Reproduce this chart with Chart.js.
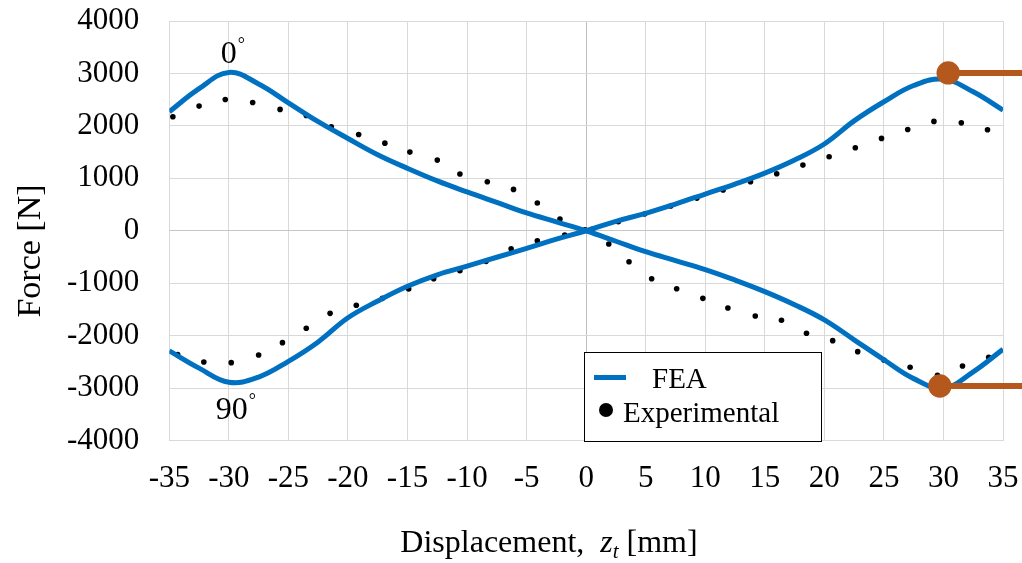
<!DOCTYPE html>
<html>
<head>
<meta charset="utf-8">
<script src="https://cdn.jsdelivr.net/npm/chart.js@4"></script>
<style>
  html, body { margin: 0; padding: 0; background: #fff; }
  #wrap { width: 1022px; height: 563px; }
</style>
</head>
<body>
<div id="wrap"><canvas id="chart" width="1022" height="563"></canvas></div>
<script>
// FEA curves, sampled every 2.5 mm
const feaX = [-35, -32.5, -30, -27.5, -25, -22.5, -20, -17.5, -15, -12.5, -10, -7.5, -5, -2.5, 0,
              2.5, 5, 7.5, 10, 12.5, 15, 17.5, 20, 22.5, 25, 27.5, 30, 32.5, 35];
const fea0 = [2270, 2710, 3020, 2800, 2440, 2080, 1760, 1450, 1190, 950, 740, 540, 340, 170, 0,
              -200, -400, -570, -740, -940, -1160, -1410, -1700, -2080, -2460, -2820, -3000, -2690, -2260];
const fea90 = [-2290, -2620, -2890, -2790, -2490, -2120, -1660, -1340, -1060, -840, -675, -505, -335, -160, 0,
               180, 333, 510, 700, 890, 1100, 1350, 1655, 2095, 2460, 2770, 2890, 2650, 2300];

// experimental points
const exp0X = [-34.7, -32.5, -30.3, -28.0, -25.7, -23.5, -21.4, -19.1, -16.9, -14.8, -12.5, -10.6, -8.3, -6.1, -4.1, -2.2, -0.1,
               1.9, 3.6, 5.5, 7.6, 9.8, 11.9, 14.2, 16.4, 18.5, 20.7, 22.8, 25.0, 27.2, 29.5, 31.6, 33.8];
const exp0Y = [2173, 2377, 2504, 2447, 2314, 2200, 1983, 1836, 1671, 1500, 1347, 1081, 934, 789, 528, 223, 20,
               -253, -591, -915, -1105, -1289, -1473, -1626, -1708, -1955, -2096, -2306, -2464, -2604, -2757, -2579, -2413];
const exp90X = [-34.3, -32.1, -29.8, -27.5, -25.5, -23.5, -21.5, -19.3, -17.1, -14.9, -12.8, -10.6, -8.4, -6.3, -4.1, -1.8, 0.5,
                2.7, 4.9, 7.1, 9.3, 11.5, 13.8, 16.0, 18.2, 20.4, 22.6, 24.8, 27.0, 29.2, 31.5, 33.7];
const exp90Y = [-2363, -2502, -2515, -2369, -2134, -1860, -1575, -1422, -1289, -1111, -914, -762, -584, -343, -191, -82, 30,
                172, 318, 471, 623, 776, 934, 1086, 1252, 1410, 1582, 1761, 1932, 2085, 2058, 1925];

// orange peak markers with leader lines running off the right edge
const markX = [30.4, 29.7];
const markY = [3010, -2960];
const leaderEndX = 37;

const angleLabels = ['0°', '90°'];
const angleLabelX = [-30, -30];
const angleLabelY = [3190, -3595];

const legendLabels = ['FEA', 'Experimental'];

const BLUE = '#0070C0';
const ORANGE = '#B5581D';
const SERIF = "'Liberation Serif', 'Times New Roman', serif";

Chart.defaults.font.family = SERIF;
Chart.defaults.color = '#000';

const pairs = (xs, ys) => xs.map((x, i) => ({ x, y: ys[i] }));

const overlay = {
    id: 'overlay',
    afterDraw(chart) {
        const { ctx, scales: { x, y } } = chart;
        ctx.save();

        // angle labels: number centred on x, small ring as superscript
        angleLabels.forEach((lbl, i) => {
            const num = lbl.replace('°', '');
            const px = x.getPixelForValue(angleLabelX[i]) + (i === 1 ? 3 : 0);
            const py = y.getPixelForValue(angleLabelY[i]);
            ctx.font = `32px ${SERIF}`;
            ctx.fillStyle = '#000';
            ctx.textAlign = 'center';
            ctx.textBaseline = 'alphabetic';
            ctx.fillText(num, px, py);
            const w = ctx.measureText(num).width;
            ctx.font = `18px ${SERIF}`;
            ctx.textAlign = 'left';
            ctx.fillText('°', px + w / 2 + 1, py - 13);
        });

        // legend box
        const lx = 584.5, ly = 352.5, lw = 237, lh = 89;
        ctx.fillStyle = '#fff';
        ctx.fillRect(lx, ly, lw, lh);
        ctx.strokeStyle = '#000';
        ctx.lineWidth = 1;
        ctx.strokeRect(lx, ly, lw, lh);

        ctx.strokeStyle = BLUE;
        ctx.lineWidth = 5;
        ctx.beginPath();
        ctx.moveTo(594, 377.5);
        ctx.lineTo(626, 377.5);
        ctx.stroke();

        ctx.fillStyle = '#000';
        ctx.beginPath();
        ctx.arc(606, 410, 7, 0, Math.PI * 2);
        ctx.fill();

        ctx.font = `29px ${SERIF}`;
        ctx.textAlign = 'left';
        ctx.textBaseline = 'alphabetic';
        ctx.fillText(legendLabels[0], 652, 388);
        ctx.fillText(legendLabels[1], 623, 422);

        // y axis title
        ctx.save();
        ctx.translate(40, 251);
        ctx.rotate(-Math.PI / 2);
        ctx.font = `34px ${SERIF}`;
        ctx.textAlign = 'center';
        ctx.fillText('Force [N]', 0, 0);
        ctx.restore();

        // x axis title with italic z and subscript t
        const parts = [
            { t: 'Displacement,  ', f: `32px ${SERIF}`, dy: 0 },
            { t: 'z', f: `italic 32px ${SERIF}`, dy: 0 },
            { t: 't', f: `italic 21px ${SERIF}`, dy: 6 },
            { t: ' [mm]', f: `32px ${SERIF}`, dy: 0 }
        ];
        let total = 0;
        parts.forEach(p => { ctx.font = p.f; p.w = ctx.measureText(p.t).width; total += p.w; });
        let cx = 549 - total / 2;
        parts.forEach(p => {
            ctx.font = p.f;
            ctx.fillText(p.t, cx, 551.5 + p.dy);
            cx += p.w;
        });

        ctx.restore();
    }
};

const ctx = document.getElementById('chart').getContext('2d');
const chart = new Chart(ctx, {
    type: 'scatter',
    data: {
        datasets: [
            {
                label: 'peak 0',
                data: [{ x: markX[0], y: markY[0] }, { x: leaderEndX, y: markY[0] }],
                showLine: true,
                borderColor: ORANGE,
                backgroundColor: ORANGE,
                borderWidth: 6,
                pointRadius: [8.7, 0],
                clip: false
            },
            {
                label: 'peak 90',
                data: [{ x: markX[1], y: markY[1] }, { x: leaderEndX, y: markY[1] }],
                showLine: true,
                borderColor: ORANGE,
                backgroundColor: ORANGE,
                borderWidth: 6,
                pointRadius: [8.7, 0],
                clip: false
            },
            {
                label: 'FEA 0',
                data: pairs(feaX, fea0),
                showLine: true,
                borderColor: BLUE,
                borderWidth: 5,
                pointRadius: 0,
                tension: 0.4
            },
            {
                label: 'FEA 90',
                data: pairs(feaX, fea90),
                showLine: true,
                borderColor: BLUE,
                borderWidth: 5,
                pointRadius: 0,
                tension: 0.4
            },
            {
                label: 'Experimental 0',
                data: pairs(exp0X, exp0Y),
                backgroundColor: '#000',
                borderWidth: 0,
                pointRadius: 2.8
            },
            {
                label: 'Experimental 90',
                data: pairs(exp90X, exp90Y),
                backgroundColor: '#000',
                borderWidth: 0,
                pointRadius: 2.8
            }
        ]
    },
    options: {
        responsive: false,
        animation: false,
        layout: { padding: { top: 21, right: 19, left: 0, bottom: 0 } },
        plugins: {
            legend: { display: false },
            tooltip: { enabled: false }
        },
        scales: {
            x: {
                type: 'linear',
                min: -35,
                max: 35,
                afterFit: s => {
                    s.height = 122.5;
                    s.paddingLeft = 0;
                    s.paddingRight = 0;
                },
                ticks: {
                    stepSize: 5,
                    padding: 20,
                    font: { size: 31 },
                    color: '#000',
                    callback: v => String(v)
                },
                grid: {
                    drawTicks: false,
                    color: c => c.tick && c.tick.value === 0 ? '#bfbfbf' : '#d9d9d9'
                },
                border: { display: false }
            },
            y: {
                min: -4000,
                max: 4000,
                afterFit: s => {
                    s.width = 169.3;
                    s.paddingTop = 0;
                    s.paddingBottom = 0;
                },
                ticks: {
                    stepSize: 1000,
                    padding: 30,
                    font: { size: 31 },
                    color: '#000',
                    callback: v => String(v)
                },
                grid: {
                    drawTicks: false,
                    color: c => c.tick && c.tick.value === 0 ? '#c6c6c6' : '#d9d9d9'
                },
                border: { display: false }
            }
        }
    },
    plugins: [overlay]
});
</script>
</body>
</html>
